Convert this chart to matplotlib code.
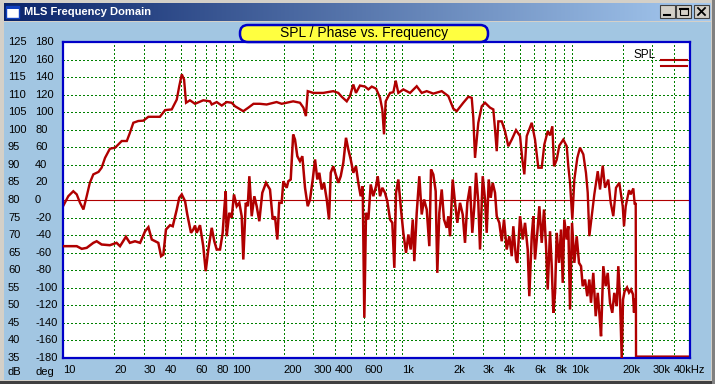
import matplotlib
matplotlib.use("Agg")
import matplotlib.pyplot as plt
import matplotlib.transforms as mtransforms
from matplotlib.patches import Rectangle, FancyBboxPatch
from matplotlib.colors import LinearSegmentedColormap
from matplotlib.ticker import NullLocator
import numpy as np

plt.rcParams['font.family'] = ['Liberation Sans', 'DejaVu Sans']

# SPL curve (dB)
spl_freq = [10.0, 10.75, 11.5, 12.05, 12.6, 13.2, 13.8, 14.4, 15.1, 16.2,
            16.9, 17.7, 18.9, 20.3, 22.2, 23.8, 24.8, 26.0, 27.8, 29.8,
            31.9, 34.9, 37.3, 40.0, 43.8, 46.9, 48.5, 50.2, 51.8, 53.2,
            56.1, 60.1, 67.2, 73.7, 75.4, 80.7, 86.4, 92.4, 98.9, 103.5,
            115.8, 124, 133, 145, 159, 182, 195, 228, 250, 262,
            271, 278, 300, 343, 393, 421, 441, 472, 493, 516,
            535, 565, 605, 633, 663, 703, 742, 765, 783, 801,
            850, 889, 918, 951, 1018, 1115, 1221, 1307, 1399, 1530,
            1715, 1876, 2008, 2102, 2299, 2462, 2578, 2634, 2696, 2819,
            2953, 3088, 3306, 3457, 3538, 3621, 3700, 3875, 4053, 4238,
            4440, 4706, 4970, 5126, 5267, 5442, 5825, 6091, 6370, 6671,
            6911, 7237, 7468, 7705, 7886, 8180, 8472, 8944, 9369, 9574,
            9800, 10110, 10390, 10820, 11220, 11740, 12170, 12460, 12740, 13150,
            13630, 14280, 14730, 15280, 15760, 16480, 17030, 17640, 18300, 19140,
            20050, 20400, 20880, 21840, 22350, 23150, 23600, 23920,
            24020, 50000]
spl_db = [78.2, 81.1, 82.5, 81.6, 79.2, 77.3, 81.1, 84.9, 87.3, 88.0,
          89.2, 92.0, 94.6, 94.9, 96.8, 96.8, 99.1, 102.0, 102.5, 102.6,
          103.7, 103.7, 103.7, 105.6, 105.8, 108.6, 112.4, 115.8, 114.3, 107.7,
          108.4, 107.4, 108.4, 108.1, 107.2, 107.9, 106.9, 107.9, 107.7, 106.7,
          105.3, 106.3, 107.4, 107.4, 107.2, 107.9, 107.4, 108.1, 107.7, 106.3,
          103.9, 111.0, 110.5, 110.5, 111.0, 110.5, 109.4, 108.1, 109.6, 112.9,
          110.5, 112.6, 112.3, 111.5, 112.3, 111.7, 109.1, 105.8, 98.7, 108.1,
          110.5, 110.7, 114.0, 110.5, 111.5, 110.5, 112.4, 110.5, 111.0, 110.3,
          111.0, 109.6, 106.0, 105.3, 107.7, 109.4, 109.1, 103.4, 92.0, 102.0,
          106.7, 107.7, 106.3, 105.8, 100.1, 93.9, 102.4, 102.4, 99.6, 95.3,
          97.2, 99.9, 98.2, 91.5, 87.3, 98.2, 102.0, 97.2, 89.2, 89.2,
          95.8, 99.6, 98.4, 101.0, 89.6, 91.5, 95.5, 97.2, 95.3, 89.6,
          84.9, 74.4, 85.8, 92.0, 94.9, 93.0, 87.7, 82.1, 69.7, 75.4,
          81.6, 88.2, 83.0, 89.8, 83.5, 85.8, 79.2, 75.4, 83.5, 84.9,
          78.2, 72.5, 78.2, 82.8, 81.6, 83.3, 78.7, 79.2,
          35.4, 35.4]

# phase curve (deg)
phase_freq = [10.0, 12.05, 12.9, 13.8, 15.1, 15.8, 16.9, 18.9, 20.7, 21.7,
              23.5, 24.8, 26.6, 28.5, 30.5, 31.9, 33.4, 36.5, 37.9, 39.1,
              40.5, 42.8, 44.4, 46.9, 48.5, 50.2, 52.5, 54.1, 56.9, 58.7,
              60.1, 61.5, 64.3, 67.2, 69.5, 72.0, 75.4, 78.1, 80.7, 84.4,
              87.5, 89.4, 91.2, 92.4, 95.7, 98.9, 102.0, 105.9, 109.7, 113.3,
              115.8, 119.7, 123.0, 125.7, 129.8, 134.5, 138.9, 143.9, 149.9, 157.6,
              166.4, 172.7, 178.1, 183.8, 188.6, 195, 199.5, 208.8, 213.4, 220.5,
              228, 233.7, 241.2, 250, 258.2, 267.8, 277.8, 286.6, 297.4, 306.8,
              316.5, 325.2, 336.0, 346.7, 359.7, 371.1, 379.8, 393, 406.3, 421,
              434.9, 450.5, 467.3, 482.2, 498.2, 516, 535, 552.3, 570.5, 586.3,
              599.3, 613.2, 633, 653.5, 677.1, 703, 718.9, 742, 765, 793.6,
              819, 850, 876.7, 900.9, 921.8, 951, 986.5, 1018, 1056, 1090,
              1125, 1157, 1182, 1221, 1265, 1307, 1349, 1399, 1449, 1483,
              1530, 1580, 1615, 1660, 1715, 1769, 1835, 1876, 1920, 1991,
              2055, 2120, 2199, 2281, 2353, 2428, 2519, 2598, 2670, 2733,
              2819, 2886, 2993, 3088, 3160, 3247, 3337, 3428, 3538, 3621,
              3750, 3875, 3997, 4146, 4295, 4440, 4535, 4706, 4789, 4970,
              5153, 5318, 5515, 5636, 5825, 5952, 6091, 6284, 6457, 6671,
              6884, 7075, 7237, 7468, 7643, 7811, 7994, 8180, 8440, 8672,
              8874, 9069, 9369, 9574, 9800, 10070, 10390, 10730, 11070, 11380,
              11640, 12010, 12390, 12740, 13030, 13440, 13890, 14280, 14590, 14930,
              15400, 15910, 16350, 16870, 17400, 17880, 18480, 18880, 19330, 19780,
              20130, 20550, 21260, 21840, 22440, 23060, 23370, 23690]
phase_deg = [-52.6, -52.6, -55.6, -54.5, -48.8, -47.0, -50.7, -51.5, -48.8, -52.6,
             -41.9, -48.8, -47.0, -48.8, -35.6, -31.0, -45.0, -48.8, -64.0, -62.1,
             -33.6, -28.7, -29.9, -10.8, 2.5, 6.3, -1.4, -16.5, -37.4, -33.6,
             -29.1, -37.4, -28.7, -52.6, -81.1, -56.4, -31.7, -47.0, -56.4, -56.4,
             -37.4, -10.8, 10.0, -41.3, -14.6, -20.3, 6.3, -7.1, -3.2, -18.5,
             -67.8, -3.2, -7.1, 27.1, -18.5, 4.3, -7.1, -24.2, 8.2, 19.6,
             12.0, -22.2, -18.8, -45.0, -3.2, -3.2, 21.4, 13.9, 21.4, 23.4,
             74.6, 68.9, 49.9, 44.2, 49.9, 13.9, -7.1, 0.6, 23.4, 46.2,
             23.4, 31.0, 12.0, 19.6, 0.6, -22.2, 31.0, 38.5, 29.1, 19.6,
             27.1, 42.4, 70.9, 57.5, 46.2, 31.0, 38.5, 19.6, 4.3, 15.7,
             -134.2, -14.6, -22.2, 17.7, 4.3, 15.7, 27.1, 4.3, 13.9, 8.2,
             -1.4, -22.2, -26.0, -77.3, 8.2, 23.4, -10.8, -37.4, -60.2, -39.3,
             -56.4, -22.2, -69.7, -14.6, 27.1, -16.5, 0.6, -10.8, -52.6, 34.8,
             29.1, 10.0, -83.0, -14.6, 12.0, -22.2, -31.7, -18.5, -41.3, 23.4,
             -3.2, -26.0, -3.2, -16.5, -48.8, -3.2, 15.7, -37.4, -7.1, 31.0,
             -3.2, -56.4, 27.1, 0.6, -37.4, 23.4, 2.5, 19.6, 8.2, -18.5,
             -26.0, -47.0, -22.2, -56.4, -41.3, -64.0, -29.9, -67.8, -71.6, -18.5,
             -45.0, -26.0, -56.4, -109.6, -41.3, -18.5, -67.8, -37.4, -7.1, -48.8,
             -10.8, -52.6, -102.0, -35.6, -75.4, -128.5, -105.8, -37.4, -71.6, -33.6,
             -94.4, -22.2, -45.0, -29.9, -124.8, -26.0, -71.6, -41.3, -71.6, -75.4,
             -98.2, -90.6, -109.6, -90.6, -117.1, -83.0, -132.4, -105.8, -128.5, -155.2,
             -75.4, -98.2, -83.0, -117.1, -128.5, -105.8, -121.0, -75.4, -113.4, -180,
             -113.4, -104.3, -99.7, -105.4, -102.0, -107.7, -128.2, -113.4]

freq_labels = {10: '10', 20: '20', 30: '30', 40: '40', 60: '60', 80: '80',
               100: '100', 200: '200', 300: '300', 400: '400', 600: '600',
               1000: '1k', 2000: '2k', 3000: '3k', 4000: '4k', 6000: '6k',
               8000: '8k', 10000: '10k', 20000: '20k', 30000: '30k', 40000: '40kHz'}
db_ticks = list(range(35, 126, 5))
deg_ticks = list(range(-180, 181, 20))

W, H = 715, 384
red = '#b00000'
sky = '#a2c6e2'
grid_green = '#008000'

fig = plt.figure(figsize=(W / 100, H / 100), dpi=100)

# window chrome, in pixel coordinates
bg = fig.add_axes([0, 0, 1, 1], zorder=0)
bg.axis('off')
bg.add_patch(Rectangle((0, 0), W, H, facecolor='#d4d0c8', edgecolor='none'))
bg.add_patch(Rectangle((0, 381), W, 3, facecolor='#404040', edgecolor='none'))
bg.add_patch(Rectangle((712, 0), 3, H, facecolor='#808080', edgecolor='none'))
bg.add_patch(Rectangle((4, 22), 707, 358, facecolor=sky, edgecolor='none'))
cap = LinearSegmentedColormap.from_list('cap', ['#0a246a', '#a6caf0'])
bg.imshow(np.linspace(0, 1, 256)[None, :], cmap=cap, aspect='auto',
          extent=[4, 711, 21, 3], zorder=1)
bg.add_patch(Rectangle((6, 6), 13, 12, facecolor='white', edgecolor='#1040c0', lw=1, zorder=2))
bg.add_patch(Rectangle((6, 6), 13, 3, facecolor='#1040c0', edgecolor='none', zorder=2))
bg.text(24, 12, 'MLS Frequency Domain', color='white', fontsize=8, fontweight='bold',
        va='center', ha='left', zorder=3)
for bx in (660, 676, 694):
    bg.add_patch(Rectangle((bx, 5), 15, 13, facecolor='#d4d0c8', edgecolor='#404040',
                           lw=0.8, zorder=2))
bg.plot([664, 670], [15, 15], color='black', lw=1.5, zorder=3)
bg.add_patch(Rectangle((679.5, 8), 8, 7, facecolor='none', edgecolor='black', lw=0.8, zorder=3))
bg.plot([679.5, 687.5], [8.5, 8.5], color='black', lw=1.5, zorder=3)
bg.plot([698, 705], [8, 15], color='black', lw=1.3, zorder=3)
bg.plot([698, 705], [15, 8], color='black', lw=1.3, zorder=3)
bg.set_xlim(0, W)
bg.set_ylim(H, 0)

# plot area
left, right, top, bottom = 63, 690, 42, 358
ax = fig.add_axes([left / W, 1 - bottom / H, (right - left) / W, (bottom - top) / H], zorder=1)
ax.set_facecolor('white')
ax.set_xscale('log')
ax.set_xlim(10, 50000)
ax.set_ylim(35, 125)
for s in ax.spines.values():
    s.set_color('#0000c8')
    s.set_linewidth(1.6)

grid_freqs = [m * 10 ** e for e in range(1, 5) for m in range(1, 10) if m * 10 ** e <= 50000]
ax.set_xticks(grid_freqs, [freq_labels.get(f, '') for f in grid_freqs])
ax.xaxis.set_minor_locator(NullLocator())
for lbl in ax.get_xticklabels():
    lbl.set_horizontalalignment('left')
ax.set_yticks(db_ticks, [''] * len(db_ticks))
ax.tick_params(axis='both', length=0, labelsize=8, pad=5, colors='black')
ax.grid(True, color=grid_green, linestyle=(0, (1, 1.6)), linewidth=1.0, antialiased=False)
ax.set_axisbelow(True)
ax.axhline(80, color=red, lw=0.8, zorder=1.5)

ax.plot(spl_freq, spl_db, color=red, lw=1.7, solid_joinstyle='miter')

ax2 = ax.twinx()
ax2.set_ylim(-180, 180)
ax2.set_yticks([])
for s in ax2.spines.values():
    s.set_visible(False)
ax2.plot(phase_freq, phase_deg, color=red, lw=1.8, solid_joinstyle='miter')

# left label columns
tr_db = mtransforms.blended_transform_factory(fig.transFigure, ax.transData)
tr_deg = mtransforms.blended_transform_factory(fig.transFigure, ax2.transData)
for v in db_ticks:
    fig.text(8 / W, v, str(v), transform=tr_db, fontsize=8, va='center', ha='left')
for v in deg_ticks:
    fig.text(35 / W, v, str(v), transform=tr_deg, fontsize=8, va='center', ha='left')
fig.text(8 / W, 1 - 372 / H, 'dB', fontsize=8, va='center', ha='left')
fig.text(35 / W, 1 - 372 / H, 'deg', fontsize=8, va='center', ha='left')

# overlay: title box and legend
ov = fig.add_axes([0, 0, 1, 1], zorder=5)
ov.axis('off')
ov.set_xlim(0, W)
ov.set_ylim(H, 0)
ov.add_patch(FancyBboxPatch((240, 25), 248, 17, boxstyle='round,pad=0,rounding_size=8',
                            facecolor='#ffff40', edgecolor='#0000c8', lw=1.8))
ov.text(364, 33.5, 'SPL / Phase vs. Frequency', fontsize=10, ha='center', va='center')
ov.text(656, 55, 'SPL', fontsize=8.5, ha='right', va='center')
ov.plot([661, 687], [59.5, 59.5], color=red, lw=1.5)
ov.plot([661, 687], [65.5, 65.5], color=red, lw=1.5)

fig.savefig('out.png', dpi=100)
